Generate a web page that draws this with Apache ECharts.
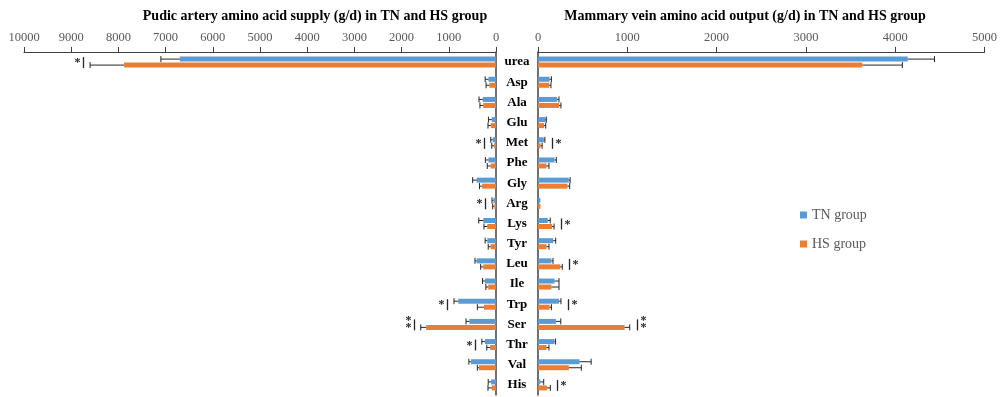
<!DOCTYPE html>
<html>
<head>
<meta charset="utf-8">
<script src="https://cdn.jsdelivr.net/npm/echarts@6/dist/echarts.min.js"></script>
<style>
  html, body { margin: 0; padding: 0; background: #ffffff; }
  #chart { width: 1000px; height: 397px; }
</style>
</head>
<body>
<div id="chart"></div>
<script>
// Amino acids, top to bottom
var categories = ['urea', 'Asp', 'Ala', 'Glu', 'Met', 'Phe', 'Gly', 'Arg', 'Lys', 'Tyr', 'Leu', 'Ile', 'Trp', 'Ser', 'Thr', 'Val', 'His'];

// Pudic artery supply (g/d)
var supplyTN    = [6700, 160, 280, 90, 70, 160, 410, 55, 270, 185, 410, 235, 800, 565, 235, 530, 105];
var supplyTNErr = [400, 70, 80, 70, 40, 65, 85, 30, 95, 45, 35, 50, 90, 70, 65, 45, 60];
var supplyHS    = [7880, 140, 270, 110, 40, 115, 295, 35, 185, 115, 270, 165, 255, 1480, 125, 360, 90];
var supplyHSErr = [720, 70, 70, 60, 50, 70, 55, 35, 70, 50, 55, 50, 140, 115, 70, 35, 80];
var supplySig   = ['*', '', '', '', '*', '', '', '*', '', '', '', '', '*', '**', '*', '', ''];

// Mammary vein output (g/d)
var outputTN    = [4140, 130, 215, 85, 65, 185, 345, 27, 110, 170, 150, 185, 235, 200, 185, 465, 27];
var outputTNErr = [300, 20, 20, 8, 12, 20, 15, 0, 27, 28, 18, 50, 22, 55, 12, 130, 37];
var outputHS    = [3630, 125, 235, 68, 28, 95, 330, 27, 158, 95, 250, 150, 130, 970, 95, 345, 100];
var outputHSErr = [450, 20, 22, 18, 18, 28, 25, 0, 22, 28, 22, 85, 20, 57, 28, 140, 38];
var outputSig   = ['', '', '', '', '*', '', '', '', '*', '', '*', '', '*', '**', '', '', '*'];

var supplyTicks = [0, 10000, 1000];
var outputTicks = [0, 5000, 1000];

var TN_COLOR = '#5B9BD5';
var HS_COLOR = '#ED7D31';
var INK = '#262626';
var SERIF = 'Liberation Serif, Times New Roman, serif';

// Error bars plus significance markers for one panel
function errorRender(tnV, tnE, hsV, hsE, sig) {
  return function (params, api) {
    var i = params.dataIndex;
    var children = [];
    var base = api.coord([0, i]);
    var cy = base[1];
    var dir = api.coord([1000, i])[0] > base[0] ? 1 : -1;
    var far = base[0];
    [[tnV[i], tnE[i], -3], [hsV[i], hsE[i], 3]].forEach(function (g) {
      var y = cy + g[2];
      var x0 = api.coord([g[0], i])[0];
      var x1 = api.coord([g[0] + g[1], i])[0];
      if (g[1] > 0) {
        children.push({ type: 'line', shape: { x1: x0, y1: y, x2: x1, y2: y }, style: { stroke: INK, lineWidth: 1 } });
        children.push({ type: 'line', shape: { x1: x1, y1: y - 3, x2: x1, y2: y + 3 }, style: { stroke: INK, lineWidth: 1 } });
      }
      if (dir * (x1 - far) > 0) far = x1;
    });
    var s = sig[i];
    if (s) {
      var bx = Math.round(far + dir * 7) + 0.5;
      children.push({ type: 'line', shape: { x1: bx, y1: cy - 5, x2: bx, y2: cy + 6 }, style: { stroke: INK, lineWidth: 1.3 } });
      var sx = bx + dir * 6;
      var ys = s.length === 2 ? [cy - 3, cy + 4] : [cy + 1];
      ys.forEach(function (yy) {
        children.push({
          type: 'text', x: sx, y: yy,
          style: { text: '*', font: 'bold 12px ' + SERIF, fill: INK, align: 'center', verticalAlign: 'middle' }
        });
      });
    }
    return { type: 'group', children: children };
  };
}

var idx = categories.map(function (c, i) { return [0, i]; });

var tickLabelStyle = {
  fontFamily: SERIF, fontSize: 12.5, color: '#595959', margin: 8,
  formatter: function (v) { return String(v); }
};
var axisLineStyle = { lineStyle: { color: '#404040', width: 1 } };

var option = {
  animation: false,
  backgroundColor: '#ffffff',
  graphic: [
    { type: 'text', x: 315, y: 16, style: { text: 'Pudic artery amino acid supply (g/d) in TN and HS group', font: 'bold 14px ' + SERIF, fill: '#000', align: 'center', verticalAlign: 'middle' } },
    { type: 'text', x: 745, y: 16, style: { text: 'Mammary vein amino acid output (g/d) in TN and HS group', font: 'bold 14px ' + SERIF, fill: '#000', align: 'center', verticalAlign: 'middle' } }
  ],
  legend: {
    data: ['TN group', 'HS group'],
    orient: 'vertical',
    left: 795, top: 203,
    icon: 'rect', itemWidth: 7, itemHeight: 7, itemGap: 15,
    textStyle: { fontFamily: SERIF, fontSize: 14, color: '#595959' }
  },
  grid: [
    { left: 24, width: 472, top: 52, height: 343 },
    { left: 538, width: 447, top: 52, height: 343 }
  ],
  xAxis: [
    {
      gridIndex: 0, type: 'value', position: 'top', inverse: true,
      min: supplyTicks[0], max: supplyTicks[1], interval: supplyTicks[2],
      axisLine: Object.assign({ show: true }, axisLineStyle),
      axisTick: Object.assign({ show: true, length: 5 }, axisLineStyle),
      splitLine: { show: false },
      axisLabel: tickLabelStyle
    },
    {
      gridIndex: 1, type: 'value', position: 'top',
      min: outputTicks[0], max: outputTicks[1], interval: outputTicks[2],
      axisLine: Object.assign({ show: true }, axisLineStyle),
      axisTick: Object.assign({ show: true, length: 5 }, axisLineStyle),
      splitLine: { show: false },
      axisLabel: tickLabelStyle
    }
  ],
  yAxis: [
    {
      gridIndex: 0, type: 'category', data: categories, inverse: true, position: 'right',
      axisLine: { show: true, lineStyle: { color: '#404040', width: 1.5 } },
      axisTick: { show: false }, axisLabel: { show: false }
    },
    {
      gridIndex: 1, type: 'category', data: categories, inverse: true, position: 'left',
      axisLine: { show: true, lineStyle: { color: '#404040', width: 1.5 } },
      axisTick: { show: false },
      axisLabel: { fontFamily: SERIF, fontSize: 13, fontWeight: 'bold', color: '#000', align: 'center', margin: 21 }
    }
  ],
  series: [
    { name: 'TN group', type: 'bar', xAxisIndex: 0, yAxisIndex: 0, data: supplyTN, barWidth: 5, barGap: '20%', itemStyle: { color: TN_COLOR } },
    { name: 'HS group', type: 'bar', xAxisIndex: 0, yAxisIndex: 0, data: supplyHS, barWidth: 5, barGap: '20%', itemStyle: { color: HS_COLOR } },
    { name: 'TN group', type: 'bar', xAxisIndex: 1, yAxisIndex: 1, data: outputTN, barWidth: 5, barGap: '20%', itemStyle: { color: TN_COLOR } },
    { name: 'HS group', type: 'bar', xAxisIndex: 1, yAxisIndex: 1, data: outputHS, barWidth: 5, barGap: '20%', itemStyle: { color: HS_COLOR } },
    {
      type: 'custom', xAxisIndex: 0, yAxisIndex: 0, clip: false, silent: true, z: 5,
      data: idx, encode: { x: 0, y: 1 },
      renderItem: errorRender(supplyTN, supplyTNErr, supplyHS, supplyHSErr, supplySig)
    },
    {
      type: 'custom', xAxisIndex: 1, yAxisIndex: 1, clip: false, silent: true, z: 5,
      data: idx, encode: { x: 0, y: 1 },
      renderItem: errorRender(outputTN, outputTNErr, outputHS, outputHSErr, outputSig)
    }
  ]
};

var chart = echarts.init(document.getElementById('chart'), null, { renderer: 'canvas' });
chart.setOption(option);
</script>
</body>
</html>
